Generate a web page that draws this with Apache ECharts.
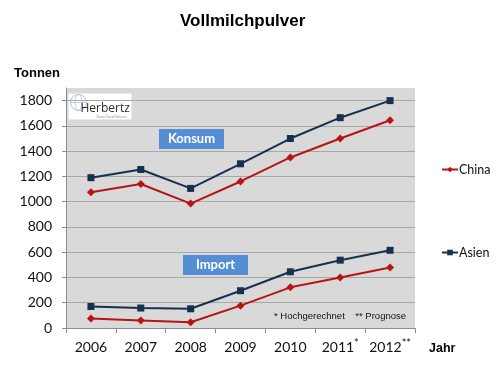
<!DOCTYPE html>
<html>
<head>
<meta charset="utf-8">
<script src="https://cdn.jsdelivr.net/npm/echarts@6/dist/echarts.min.js"></script>
<style>html,body{margin:0;padding:0;background:#fff}#c{width:500px;height:373px}</style>
</head>
<body>
<div id="c"></div>
<script>
const years = ['2006', '2007', '2008', '2009', '2010', '2011*', '2012**'];
const asienKonsum = [1190, 1255, 1105, 1300, 1500, 1665, 1800];
const chinaKonsum = [1075, 1140, 985, 1160, 1350, 1500, 1645];
const asienImport = [170, 158, 152, 295, 445, 537, 615];
const chinaImport = [75, 60, 45, 177, 322, 400, 479];
const yTicks = [0, 200, 400, 600, 800, 1000, 1200, 1400, 1600, 1800];

const RED = '#B81414';
const NAVY = '#17304F';
const lbl = "Lato, 'Open Sans', sans-serif";

const chart = echarts.init(document.getElementById('c'), null, {renderer: 'canvas'});

function lineSeries(name, data, color, symbol, size) {
  return {
    name: name, type: 'line', data: data,
    symbol: symbol, symbolSize: size,
    lineStyle: {color: color, width: 2},
    itemStyle: {color: color, borderColor: color, borderWidth: 0},
    emphasis: {disabled: true},
    animation: false, z: 3
  };
}

const gridLineColors = yTicks.map(() => '#A8A8A8').concat(['#D9D9D9']);

chart.setOption({
  animation: false,
  backgroundColor: '#ffffff',
  title: {
    text: 'Vollmilchpulver', left: 175, top: 8,
    textStyle: {fontFamily: "'Liberation Sans', Arial, sans-serif", fontWeight: 'bold', fontSize: 17, color: '#000'}
  },
  legend: {
    orient: 'vertical', left: 436, top: 158,
    itemGap: 70, itemWidth: 16, itemHeight: 7,
    data: ['China', 'Asien'],
    textStyle: {fontFamily: lbl, fontSize: 12.5, color: '#111', padding: [0, 0, 0, -4]}
  },
  grid: {
    left: 66, right: 85, top: 88, bottom: 45,
    show: true, backgroundColor: '#D9D9D9', borderWidth: 0
  },
  xAxis: {
    type: 'category', data: years, boundaryGap: true,
    name: 'Jahr', nameLocation: 'end', nameGap: 14,
    nameTextStyle: {fontFamily: "'Liberation Sans', Arial, sans-serif", fontWeight: 'bold', fontSize: 12.5, color: '#000', verticalAlign: 'top', align: 'left', padding: [14, 0, 0, 0]},
    axisLine: {lineStyle: {color: '#8C8C8C', width: 1}},
    axisTick: {show: true, length: 5, lineStyle: {color: '#8C8C8C'}},
    axisLabel: {
      interval: 0, hideOverlap: false,
      fontFamily: lbl, fontSize: 14, color: '#111', margin: 10,
      formatter: function (v) {
        const m = v.match(/^(\d+)(\*+)?$/);
        return '{n|' + m[1] + '}' + (m[2] ? '{s|' + m[2] + '}' : '');
      },
      rich: {
        n: {fontFamily: lbl, fontSize: 14, color: '#111', lineHeight: 18, verticalAlign: 'middle'},
        s: {fontFamily: lbl, fontSize: 11, color: '#111', lineHeight: 11, verticalAlign: 'top'}
      }
    },
    splitLine: {show: false}
  },
  yAxis: {
    type: 'value', min: 0, max: 1900, interval: 200,
    name: 'Tonnen', nameLocation: 'end', nameGap: 15,
    nameTextStyle: {fontFamily: "'Liberation Sans', Arial, sans-serif", fontWeight: 'bold', fontSize: 13, color: '#000', align: 'right', verticalAlign: 'middle', padding: [0, 6, 0, 0]},
    axisLine: {show: true, lineStyle: {color: '#8C8C8C', width: 1}},
    axisTick: {show: true, length: 4, lineStyle: {color: '#8C8C8C'}, customValues: yTicks},
    axisLabel: {fontFamily: lbl, fontSize: 14, color: '#111', margin: 14, customValues: yTicks,
      formatter: function (v) { return String(v); }},
    splitLine: {show: true, lineStyle: {color: gridLineColors, width: 1}}
  },
  series: [
    lineSeries('Asien', asienKonsum, NAVY, 'rect', 7),
    lineSeries('China', chinaKonsum, RED, 'diamond', 8),
    lineSeries('Asien', asienImport, NAVY, 'rect', 7),
    lineSeries('China', chinaImport, RED, 'diamond', 8)
  ],
  graphic: [
    {type: 'group', left: 68, top: 92, z: 10, children: [
      {type: 'rect', shape: {x: 0, y: 0, width: 63, height: 26}, style: {fill: '#ffffff'}},
      {type: 'circle', shape: {cx: 10, cy: 9, r: 8}, style: {fill: 'none', stroke: '#9DB0C6', lineWidth: 0.8}},
      {type: 'ellipse', shape: {cx: 10, cy: 9, rx: 3.5, ry: 8}, style: {fill: 'none', stroke: '#9DB0C6', lineWidth: 0.6}},
      {type: 'line', shape: {x1: 2, y1: 9, x2: 18, y2: 9}, style: {stroke: '#9DB0C6', lineWidth: 0.6}},
      {type: 'text', left: 12, top: 9, style: {text: 'Herbertz', font: "12px 'Open Sans', sans-serif", fill: '#2B2B2B'}},
      {type: 'text', left: 28, top: 21, style: {text: 'Dairy Food Service', font: "3.5px 'Open Sans', sans-serif", fill: '#6A7FA0'}}
    ]},
    {type: 'group', left: 159, top: 129, z: 10, children: [
      {type: 'rect', shape: {x: 0, y: 0, width: 65, height: 20}, style: {fill: '#558ED5'}},
      {type: 'text', style: {x: 32.5, y: 10, text: 'Konsum', align: 'center', verticalAlign: 'middle', font: "bold 13px Lato, sans-serif", fill: '#ffffff'}}
    ]},
    {type: 'group', left: 183, top: 255, z: 10, children: [
      {type: 'rect', shape: {x: 0, y: 0, width: 65, height: 20}, style: {fill: '#558ED5'}},
      {type: 'text', style: {x: 32.5, y: 10, text: 'Import', align: 'center', verticalAlign: 'middle', font: "bold 13px Lato, sans-serif", fill: '#ffffff'}}
    ]},
    {type: 'text', left: 274, top: 311, z: 10, style: {text: '* Hochgerechnet    ** Prognose', font: "9.5px 'Liberation Sans Narrow', 'Liberation Sans', sans-serif", fill: '#111'}}
  ]
});
</script>
</body>
</html>
